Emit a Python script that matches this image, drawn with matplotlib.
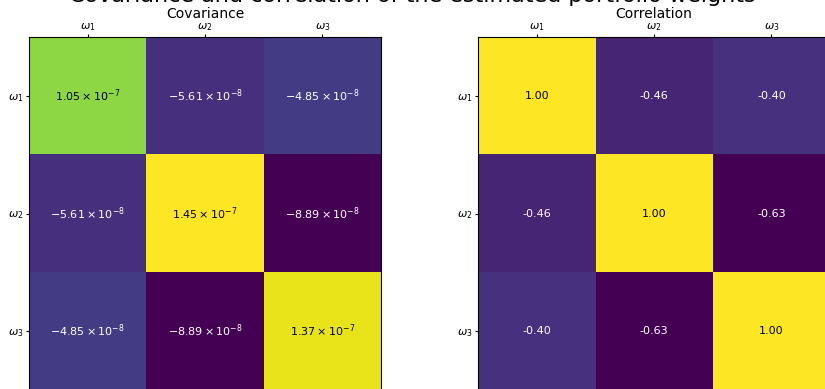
import numpy as np
import matplotlib.pyplot as plt
from matplotlib.transforms import Bbox

labels = [r'$\omega_1$', r'$\omega_2$', r'$\omega_3$']

# covariance of the three weights
cov = np.array([
    [1.05e-7, -5.61e-8, -4.85e-8],
    [-5.61e-8, 1.45e-7, -8.89e-8],
    [-4.85e-8, -8.89e-8, 1.37e-7],
])

# correlation matrix
corr = np.array([
    [1.00, -0.46, -0.40],
    [-0.46, 1.00, -0.63],
    [-0.40, -0.63, 1.00],
])


def sci(v):
    m, e = f'{v:.2e}'.split('e')
    return r'$%s \times 10^{%d}$' % (m, int(e))


W, H = 825, 389
HT = H + 30  # extra room above, cropped away on save
fig = plt.figure(figsize=(W / 100, HT / 100), dpi=100)

# overall title, only its lowest strip ends up inside the saved area
fig.text(0.5, (H - 2) / HT, 'Covariance and correlation of the estimated portfolio weights',
         ha='center', va='baseline', fontsize=16)

boxes = [(29, 37, 352, 353), (478, 37, 352, 353)]
mats = [cov, corr]
titles = ['Covariance', 'Correlation']
fmts = [sci, lambda v: f'{v:.2f}']

for (x0, y0, w, h), m, t, fmt in zip(boxes, mats, titles, fmts):
    ax = fig.add_axes([x0 / W, (H - y0 - h) / HT, w / W, h / HT])
    ax.imshow(m, cmap='viridis', aspect='auto')
    lo, hi = m.min(), m.max()
    for i in range(3):
        for j in range(3):
            v = m[i, j]
            c = 'black' if (v - lo) / (hi - lo) > 0.5 else 'white'
            ax.text(j, i, fmt(v), ha='center', va='center', color=c, fontsize=8)
    ax.set_xticks(range(3))
    ax.set_yticks(range(3))
    ax.set_xticklabels(labels, fontsize=8)
    ax.set_yticklabels(labels, fontsize=8)
    ax.xaxis.tick_top()
    ax.tick_params(length=2, pad=2)
    ax.tick_params(axis='x', pad=1)
    ax.set_title(t, fontsize=10, pad=2)

plt.savefig('out.png', dpi=100, bbox_inches=Bbox.from_bounds(0, 0, W / 100, H / 100))
